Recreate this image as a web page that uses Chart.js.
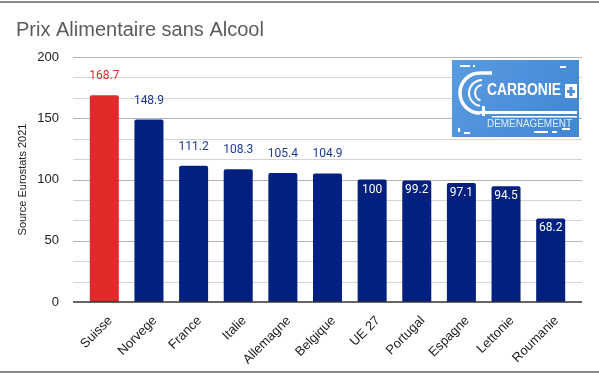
<!DOCTYPE html>
<html>
<head>
<meta charset="utf-8">
<script src="https://cdn.jsdelivr.net/npm/chart.js@4/dist/chart.umd.min.js"></script>
<style>
  html, body { margin: 0; padding: 0; background: #fff; }
  #wrap { position: relative; width: 599px; height: 373px; }
  #wrap:before { content: ''; position: absolute; left: 0; right: 0; top: 1px; border-top: 2px solid #8a8a8a; }
  #wrap:after { content: ''; position: absolute; left: 0; right: 0; bottom: 0; border-bottom: 2px solid #8a8a8a; }
</style>
</head>
<body>
<div id="wrap"><canvas id="chart" width="599" height="373"></canvas></div>
<script>
// data
var pays = ['Suisse', 'Norvege', 'France', 'Italie', 'Allemagne', 'Belgique', 'UE 27', 'Portugal', 'Espagne', 'Lettonie', 'Roumanie'];
var prix = [168.7, 148.9, 111.2, 108.3, 105.4, 104.9, 100, 99.2, 97.1, 94.5, 68.2];
var yTicks = [0, 50, 100, 150, 200];
var highlight = 'Suisse';

var RED = '#e22a2b';
var NAVY = '#02207f';
var LABEL_BLUE = '#1c3a98';
var GRID_EXTRA = 9; // gridlines run a bit past the outer bars

function barColor(i) {
    return pays[i] === highlight ? RED : NAVY;
}

function gridValues() {
    var t = [];
    for (var i = 0; i < yTicks.length - 1; i++) {
        var a = yTicks[i], b = yTicks[i + 1];
        for (var k = 0; k < 3; k++) t.push(a + (b - a) * k / 3);
    }
    t.push(yTicks[yTicks.length - 1]);
    return t;
}

// horizontal grid + baseline, wider than the chart area
var wideGrid = {
    id: 'wideGrid',
    beforeDatasetsDraw: function (chart) {
        var ctx = chart.ctx, area = chart.chartArea, y = chart.scales.y;
        var x0 = area.left - GRID_EXTRA, x1 = area.right + GRID_EXTRA;
        ctx.save();
        gridValues().forEach(function (v) {
            if (v === 0) return;
            var py = Math.round(y.getPixelForValue(v)) + 0.5;
            ctx.strokeStyle = yTicks.indexOf(v) >= 0 ? '#b3b3b3' : '#d4d4d4';
            ctx.lineWidth = 1;
            ctx.beginPath();
            ctx.moveTo(x0, py);
            ctx.lineTo(x1, py);
            ctx.stroke();
        });
        ctx.restore();
    },
    afterDatasetsDraw: function (chart) {
        var ctx = chart.ctx, area = chart.chartArea, y = chart.scales.y;
        var py = y.getPixelForValue(0);
        ctx.save();
        ctx.strokeStyle = '#333333';
        ctx.lineWidth = 1.5;
        ctx.beginPath();
        ctx.moveTo(area.left - GRID_EXTRA, py);
        ctx.lineTo(area.right + GRID_EXTRA, py);
        ctx.stroke();
        ctx.restore();
    }
};

// value labels: above the bar when tall, inside (white) otherwise
var valueLabels = {
    id: 'valueLabels',
    afterDatasetsDraw: function (chart) {
        var ctx = chart.ctx;
        var meta = chart.getDatasetMeta(0);
        ctx.save();
        ctx.font = '12px Roboto';
        ctx.textAlign = 'center';
        ctx.textBaseline = 'middle';
        meta.data.forEach(function (bar, i) {
            var v = prix[i];
            if (v > 100) {
                ctx.fillStyle = pays[i] === highlight ? RED : LABEL_BLUE;
                ctx.fillText(String(v), bar.x, bar.y - 19);
            } else {
                ctx.fillStyle = '#ffffff';
                ctx.fillText(String(v), bar.x, bar.y + 10);
            }
        });
        ctx.restore();
    }
};

function fitText(ctx, text, x, y, width) {
    var m = ctx.measureText(text).width;
    ctx.save();
    ctx.translate(x, y);
    ctx.scale(width / m, 1);
    ctx.fillText(text, 0, 0);
    ctx.restore();
}

// logo box in the top right corner
var logo = {
    id: 'logo',
    afterDraw: function (chart) {
        var ctx = chart.ctx;
        var x = chart.width - 147, y = 60, w = 127, h = 77;
        ctx.save();
        var g = ctx.createLinearGradient(x, y, x + w, y + h);
        g.addColorStop(0, '#5a9be0');
        g.addColorStop(1, '#3f86d4');
        ctx.fillStyle = g;
        ctx.fillRect(x, y, w, h);

        ctx.strokeStyle = '#ffffff';
        ctx.lineWidth = 3.5;
        ctx.beginPath();
        ctx.arc(x + 28, y + 33, 20, Math.PI * 0.5, Math.PI * 1.5);
        ctx.lineTo(x + 40, y + 13);
        ctx.stroke();
        ctx.lineWidth = 2;
        ctx.beginPath();
        ctx.arc(x + 30, y + 33, 13, Math.PI * 0.55, Math.PI * 1.5);
        ctx.stroke();
        ctx.beginPath();
        ctx.arc(x + 31, y + 33, 8, Math.PI * 0.6, Math.PI * 1.45);
        ctx.stroke();

        ctx.fillStyle = '#ffffff';
        ctx.fillRect(x + 28, y + 51, 97, 3);
        ctx.fillRect(x + 40, y + 56, 85, 1.5);
        ctx.fillRect(x + 30, y + 46, 3, 10);

        ctx.font = 'bold 16px "Liberation Sans"';
        ctx.textBaseline = 'middle';
        ctx.textAlign = 'left';
        fitText(ctx, 'CARBONIE', x + 35, y + 31, 74);
        ctx.fillRect(x + 113, y + 24, 12, 14);
        ctx.fillStyle = '#4a8fd8';
        ctx.fillRect(x + 115, y + 30, 8, 3);
        ctx.fillRect(x + 117.5, y + 27, 3, 9);

        ctx.fillStyle = 'rgba(255,255,255,0.85)';
        ctx.font = '10px "Liberation Sans"';
        fitText(ctx, 'DEMENAGEMENT', x + 35, y + 64, 85);

        ctx.fillStyle = '#ffffff';
        ctx.fillRect(x + 8, y + 5, 10, 2);
        ctx.fillRect(x + 21, y + 5, 2, 2);
        ctx.fillRect(x + 108, y + 6, 6, 2);
        ctx.fillRect(x + 6, y + 68, 2, 4);
        ctx.fillRect(x + 12, y + 72, 6, 2);
        ctx.fillRect(x + 82, y + 71, 14, 2);
        ctx.fillRect(x + 100, y + 71, 5, 2);
        ctx.fillRect(x + 110, y + 68, 8, 2);
        ctx.restore();
    }
};

new Chart(document.getElementById('chart').getContext('2d'), {
    type: 'bar',
    data: {
        labels: pays,
        datasets: [{
            data: prix,
            backgroundColor: function (c) { return barColor(c.dataIndex); },
            borderRadius: 2,
            borderSkipped: 'bottom',
            barPercentage: 0.65,
            categoryPercentage: 1
        }]
    },
    plugins: [wideGrid, valueLabels, logo],
    options: {
        responsive: false,
        animation: false,
        layout: { padding: { left: 16, right: 26, top: 0, bottom: 0 } },
        plugins: {
            legend: { display: false },
            tooltip: { enabled: false },
            title: {
                display: true,
                text: 'Prix Alimentaire sans Alcool',
                align: 'start',
                color: '#5b5b5b',
                font: { family: '"Liberation Sans", Arial', size: 20, weight: 'normal' },
                padding: { top: 18, bottom: 15 }
            }
        },
        scales: {
            x: {
                grid: { display: false },
                border: { display: false },
                ticks: {
                    color: '#222222',
                    font: { family: '"Liberation Sans", Arial', size: 13 },
                    minRotation: 45,
                    maxRotation: 45,
                    labelOffset: 6,
                    autoSkip: false
                },
                afterFit: function (s) { s.height = 71; }
            },
            y: {
                min: 0,
                max: 200,
                afterBuildTicks: function (s) {
                    s.ticks = yTicks.map(function (v) { return { value: v }; });
                },
                afterFit: function (s) { s.width = 66; },
                border: { display: false },
                grid: { display: false },
                ticks: {
                    padding: 15,
                    color: '#222222',
                    font: { family: '"Liberation Sans", Arial', size: 13 }
                },
                title: {
                    display: true,
                    text: 'Source Eurostats 2021',
                    color: '#222222',
                    font: { family: '"Liberation Sans", Arial', size: 11 },
                    padding: { top: 0, bottom: 4 }
                }
            }
        }
    }
});
</script>
</body>
</html>
